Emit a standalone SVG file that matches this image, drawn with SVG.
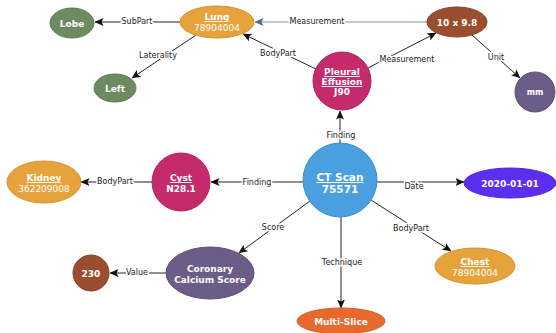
<svg xmlns="http://www.w3.org/2000/svg" width="556" height="333" viewBox="0 0 556 333">
<defs>
<marker id="arr" markerWidth="9" markerHeight="8" refX="8.5" refY="4" orient="auto" markerUnits="userSpaceOnUse">
<path d="M0,0 L9,4 L0,8 L2,4 z" fill="#111"/>
</marker>
<marker id="arrb" markerWidth="9" markerHeight="8" refX="8.5" refY="4" orient="auto" markerUnits="userSpaceOnUse">
<path d="M0,0 L9,4 L0,8 L2,4 z" fill="#4f6f91"/>
</marker>
<style>
.e{stroke:#222;stroke-width:1;fill:none;marker-end:url(#arr)}
.eb{stroke:#7d95ad;stroke-width:1.2;fill:none;marker-end:url(#arrb)}
.l{font-family:"DejaVu Sans",Verdana,sans-serif;font-size:8px;fill:#222;text-anchor:middle;stroke:#fff;stroke-width:3px;paint-order:stroke;stroke-linejoin:round}
.t{font-family:"DejaVu Sans",Verdana,sans-serif;font-size:9px;fill:#fff;text-anchor:middle}
.b{font-weight:bold}
.u{text-decoration:underline}
.green{fill:#6d8a62;stroke:#5e7a54}
.orange{fill:#e6a33c;stroke:#d19330}
.brown{fill:#9a4e2f;stroke:#874226}
.mag{fill:#c52a6a;stroke:#b0235d}
.purp{fill:#6c5c88;stroke:#5e4f79}
.blue{fill:#4a9fde;stroke:#3f8ecb}
.violet{fill:#5b2ef0;stroke:#4d24d6}
.red{fill:#e8692e;stroke:#d45d25}
</style>
</defs>
<g id="connectors">
<line class="e" x1="181" y1="22" x2="95" y2="22"/>
<text class="l" x="137" y="24">SubPart</text>
<line class="e" x1="196" y1="35" x2="132" y2="78"/>
<text class="l" x="158" y="58">Laterality</text>
<line class="e" x1="316" y1="69" x2="243" y2="34"/>
<text class="l" x="278" y="56">BodyPart</text>
<line class="eb" x1="427" y1="22" x2="255" y2="22"/>
<text class="l" x="317" y="24">Measurement</text>
<line class="e" x1="368" y1="68" x2="436" y2="33"/>
<text class="l" x="407" y="62">Measurement</text>
<line class="e" x1="472" y1="35" x2="520" y2="78"/>
<text class="l" x="496" y="60">Unit</text>
<line class="e" x1="340" y1="143" x2="340" y2="111"/>
<text class="l" x="341" y="138">Finding</text>
<line class="e" x1="303" y1="182" x2="211" y2="182"/>
<text class="l" x="257" y="185">Finding</text>
<line class="e" x1="152" y1="182" x2="81" y2="182"/>
<text class="l" x="115" y="184">BodyPart</text>
<line class="e" x1="377" y1="182" x2="464" y2="182"/>
<text class="l" x="414" y="189">Date</text>
<line class="e" x1="371" y1="200" x2="451" y2="251"/>
<text class="l" x="411" y="231">BodyPart</text>
<line class="e" x1="341" y1="217" x2="341" y2="308"/>
<text class="l" x="342" y="265">Technique</text>
<line class="e" x1="310" y1="201" x2="239" y2="253"/>
<text class="l" x="273" y="230">Score</text>
<line class="e" x1="166" y1="273" x2="110" y2="273"/>
<text class="l" x="137" y="275">Value</text>
</g>
<g id="lobe"><ellipse class="green" cx="72" cy="23" rx="22" ry="15"/><text class="t b" x="72" y="26.5">Lobe</text></g>
<g id="lung"><ellipse class="orange" cx="217" cy="22" rx="37" ry="16"/><text class="t b u" x="217" y="20">Lung</text><text class="t" x="217" y="31">78904004</text></g>
<g id="left"><ellipse class="green" cx="115" cy="88" rx="21" ry="14"/><text class="t b" x="115" y="91.5">Left</text></g>
<g id="measure"><ellipse class="brown" cx="457" cy="22" rx="30" ry="15"/><text class="t b" x="457" y="25.5">10 x 9.8</text></g>
<g id="pleural"><circle class="mag" cx="342" cy="81" r="29"/><text class="t b u" x="342" y="75">Pleural</text><text class="t b u" x="342" y="85">Effusion</text><text class="t b" x="342" y="95">J90</text></g>
<g id="mm"><circle class="purp" cx="535" cy="92" r="20"/><text class="t b" x="535" y="95" style="font-size:8px">mm</text></g>
<g id="kidney"><ellipse class="orange" cx="44" cy="182" rx="37" ry="21"/><text class="t b u" x="44" y="181">Kidney</text><text class="t" x="44" y="192">362209008</text></g>
<g id="cyst"><circle class="mag" cx="181" cy="182" r="29"/><text class="t b u" x="181" y="181">Cyst</text><text class="t b" x="181" y="192">N28.1</text></g>
<g id="ctscan"><circle class="blue" cx="340" cy="180" r="37"/><text class="t b u" x="340" y="181" style="font-size:10.5px">CT Scan</text><text class="t b" x="340" y="193" style="font-size:10.5px">75571</text></g>
<g id="date"><ellipse class="violet" cx="510" cy="183" rx="46" ry="15"/><text class="t b" x="510" y="186.5">2020-01-01</text></g>
<g id="coronary"><ellipse class="purp" cx="210" cy="273" rx="44" ry="26"/><text class="t b" x="210" y="272">Coronary</text><text class="t b" x="210" y="283">Calcium Score</text></g>
<g id="value230"><circle class="brown" cx="91" cy="273" r="18"/><text class="t b" x="91" y="276.5">230</text></g>
<g id="chest"><ellipse class="orange" cx="475" cy="266" rx="40" ry="18"/><text class="t b u" x="475" y="265">Chest</text><text class="t" x="475" y="276">78904004</text></g>
<g id="multislice"><ellipse class="red" cx="341" cy="321" rx="44" ry="13"/><text class="t b" x="341" y="324.5">Multi-Slice</text></g>
</svg>
